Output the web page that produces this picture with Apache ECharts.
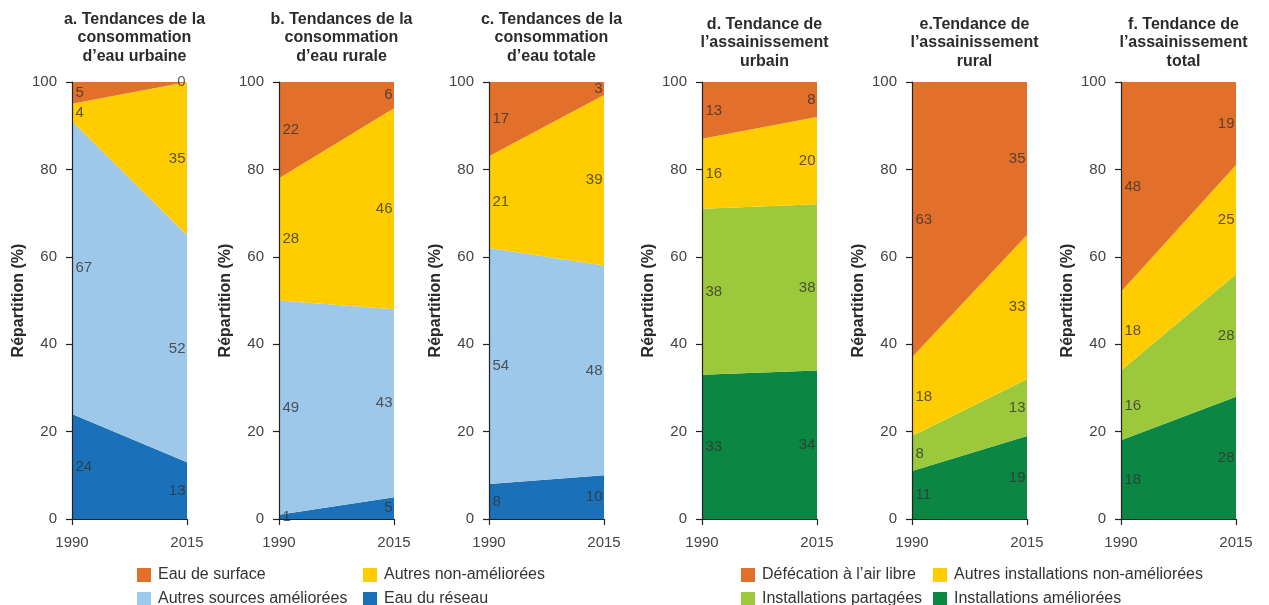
<!DOCTYPE html>
<html lang="fr">
<head>
    <meta charset="utf-8">
    <title>Tendances eau et assainissement</title>
    <script src="https://cdn.jsdelivr.net/npm/echarts@6/dist/echarts.min.js"></script>
    <style>
        html, body {
            margin: 0;
            padding: 0;
            background: #fff;
        }
        #chart {
            width: 1269px;
            height: 605px;
        }
    </style>
</head>
<body>
<div id="chart"></div>

<script>
    // années (axe x)
    var years = ['1990', '2015'];

    // noms des séries, du bas vers le haut
    var waterNames = ['Eau du réseau', 'Autres sources améliorées', 'Autres non-améliorées', 'Eau de surface'];
    var sanitNames = ['Installations améliorées', 'Installations partagées', 'Autres installations non-améliorées', 'Défécation à l\u2019air libre'];

    var waterColors = ['#1B71B9', '#9EC8EA', '#FFCC00', '#E3702A'];
    var sanitColors = ['#0B8643', '#9CC93B', '#FFCC00', '#E3702A'];

    // valeurs [1990, 2015] par série, du bas vers le haut
    var waterUrban = [[24, 13], [67, 52], [4, 35], [5, 0]];
    var waterRural = [[1, 5], [49, 43], [28, 46], [22, 6]];
    var waterTotal = [[8, 10], [54, 48], [21, 39], [17, 3]];
    var sanitUrban = [[33, 34], [38, 38], [16, 20], [13, 8]];
    var sanitRural = [[11, 19], [8, 13], [18, 33], [63, 35]];
    var sanitTotal = [[18, 28], [16, 28], [18, 25], [48, 19]];

    var titles = [
        'a. Tendances de la\nconsommation\nd\u2019eau urbaine',
        'b. Tendances de la\nconsommation\nd\u2019eau rurale',
        'c. Tendances de la\nconsommation\nd\u2019eau totale',
        'd. Tendance de\nl\u2019assainissement\nurbain',
        'e.Tendance de\nl\u2019assainissement\nrural',
        'f. Tendance de\nl\u2019assainissement\ntotal'
    ];

    var panels = [waterUrban, waterRural, waterTotal, sanitUrban, sanitRural, sanitTotal];
    var lefts = [72, 279, 489, 702, 912, 1121];
    var plotW = 115;
    var font = '"Liberation Sans", Arial, sans-serif';

    var option = {
        animation: false,
        textStyle: { fontFamily: font },
        title: [],
        grid: [],
        xAxis: [],
        yAxis: [],
        series: [],
        legend: []
    };

    panels.forEach(function (data, p) {
        var isWater = p < 3;
        var names = isWater ? waterNames : sanitNames;
        var colors = isWater ? waterColors : sanitColors;

        option.title.push({
            text: titles[p],
            left: lefts[p] + plotW / 2,
            top: isWater ? 5 : 10,
            textAlign: 'center',
            textStyle: {
                fontFamily: font,
                fontSize: 16,
                fontWeight: 'bold',
                color: '#2b2b2b',
                lineHeight: 18.5
            }
        });

        option.grid.push({
            left: lefts[p],
            width: plotW,
            top: 82,
            bottom: 86,
            containLabel: false
        });

        option.xAxis.push({
            type: 'category',
            gridIndex: p,
            data: years,
            boundaryGap: false,
            z: 10,
            axisLine: { lineStyle: { color: '#222', width: 1.2 } },
            axisTick: { length: 6, lineStyle: { color: '#222', width: 1.2 } },
            axisLabel: { margin: 16, fontSize: 15, color: '#444', fontFamily: font }
        });

        option.yAxis.push({
            type: 'value',
            gridIndex: p,
            min: 0,
            max: 100,
            interval: 20,
            z: 10,
            name: 'Répartition (%)',
            nameLocation: 'middle',
            nameGap: 45,
            nameTextStyle: { fontSize: 16, fontWeight: 'bold', color: '#2b2b2b', fontFamily: font },
            axisLine: { show: true, lineStyle: { color: '#222', width: 1.2 } },
            axisTick: { show: true, length: 6, lineStyle: { color: '#222', width: 1.2 } },
            axisLabel: { margin: 15, fontSize: 15, color: '#444', fontFamily: font },
            splitLine: { show: false }
        });

        var base = [0, 0];
        data.forEach(function (vals, s) {
            option.series.push({
                name: names[s],
                type: 'line',
                xAxisIndex: p,
                yAxisIndex: p,
                stack: 'p' + p,
                symbol: 'none',
                lineStyle: { width: 0 },
                areaStyle: { color: colors[s], opacity: 1 },
                itemStyle: { color: colors[s] },
                emphasis: { disabled: true },
                data: vals
            });

            // étiquettes au milieu de chaque bande
            var mid = [base[0] + vals[0] / 2, base[1] + vals[1] / 2];
            option.series.push({
                type: 'scatter',
                xAxisIndex: p,
                yAxisIndex: p,
                symbolSize: 1,
                itemStyle: { color: 'rgba(0,0,0,0)' },
                silent: true,
                z: 5,
                data: [
                    { value: [0, mid[0]], pos: 'right', dist: 3, txt: vals[0] },
                    { value: [1, mid[1]], pos: 'left', dist: 1, txt: vals[1] }
                ].map(function (d) {
                    return {
                        value: d.value,
                        label: {
                            show: true,
                            position: d.pos,
                            distance: d.dist,
                            formatter: String(d.txt),
                            fontSize: 15,
                            color: '#333',
                            fontFamily: font
                        }
                    };
                })
            });
            base = [base[0] + vals[0], base[1] + vals[1]];
        });
    });

    var legendBase = {
        orient: 'vertical',
        top: 567,
        height: 40,
        icon: 'rect',
        itemWidth: 14,
        itemHeight: 14,
        itemGap: 8,
        selectedMode: false,
        textStyle: { fontSize: 16, lineHeight: 14, color: '#333', fontFamily: font, padding: [0, 0, 0, 2] },
        padding: 0
    };
    [
        { left: 137, data: [waterNames[3], waterNames[1]] },
        { left: 363, data: [waterNames[2], waterNames[0]] },
        { left: 741, data: [sanitNames[3], sanitNames[1]] },
        { left: 933, data: [sanitNames[2], sanitNames[0]] }
    ].forEach(function (l) {
        option.legend.push(Object.assign({}, legendBase, l));
    });

    var myChart = echarts.init(document.getElementById('chart'));
    myChart.setOption(option);
</script>
</body>
</html>
